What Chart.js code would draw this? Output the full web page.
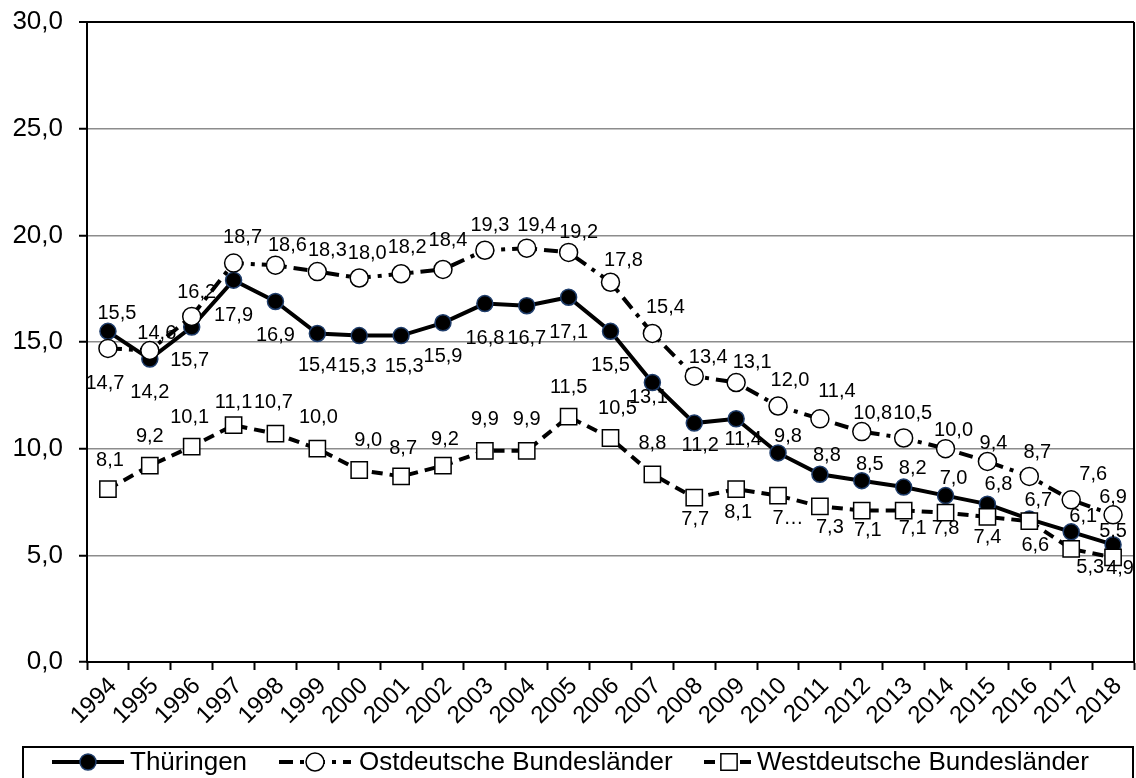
<!DOCTYPE html>
<html>
<head>
<meta charset="utf-8">
<script src="https://cdn.jsdelivr.net/npm/chart.js@4/dist/chart.umd.min.js"></script>
<style>
  body { margin: 0; background: #fff; }
  #wrap { width: 1136px; height: 778px; }
</style>
</head>
<body>
<div id="wrap"><canvas id="chart" width="1136" height="778"></canvas></div>
<script>
// Jahre
const years = ['1994','1995','1996','1997','1998','1999','2000','2001','2002','2003','2004','2005',
  '2006','2007','2008','2009','2010','2011','2012','2013','2014','2015','2016','2017','2018'];

// Werte je Reihe
const thueringen = [15.5,14.2,15.7,17.9,16.9,15.4,15.3,15.3,15.9,16.8,16.7,17.1,
  15.5,13.1,11.2,11.4,9.8,8.8,8.5,8.2,7.8,7.4,6.7,6.1,5.5];
const ostdeutsch = [14.7,14.6,16.2,18.7,18.6,18.3,18.0,18.2,18.4,19.3,19.4,19.2,
  17.8,15.4,13.4,13.1,12.0,11.4,10.8,10.5,10.0,9.4,8.7,7.6,6.9];
const westdeutsch = [8.1,9.2,10.1,11.1,10.7,10.0,9.0,8.7,9.2,9.9,9.9,11.5,
  10.5,8.8,7.7,8.1,7.8,7.3,7.1,7.1,7.0,6.8,6.6,5.3,4.9];

const yTicks = [0, 5, 10, 15, 20, 25, 30];

// Beschriftungs-Versatz (dx, dy) je Punkt, wie im Original
const offT = [[9,-18],[0,33],[-2,33],[0,35],[0,34],[0,32],[-2,31],[3,31],[0,34],[0,35],[0,33],[0,35],
  [0,34],[-4,15],[6,22],[7,21],[10,-16],[7,-19],[8,-16],[9,-19],[0,33],[0,33],[9,-19],[12,-15],[0,-13]];
const offO = [[-3,35],[7,-17],[5,-24],[9,-26],[12,-20],[10,-21],[8,-25],[6,-26],[5,-29],[5,-25],[10,-23],[10,-20],
  [13,-22],[13,-26],[14,-19],[16,-20],[12,-26],[17,-27],[11,-18],[9,-25],[8,-18],[6,-18],[8,-24],[22,-25],[0,-17]];
const offW = [[2,-29],[0,-29],[-2,-29],[0,-23],[-2,-31],[1,-31],[9,-30],[2,-28],[2,-26],[0,-31],[0,-31],[0,-29],
  [7,-30],[0,-31],[1,22],[2,23],[10,23],[10,21],[6,20],[9,18],[8,-34],[11,-32],[6,24],[19,19],[7,11]];
const labelOverrideW = { 16: '7…' }; // im Original abgeschnitten

// Legende: Symbol-Start, Symbol-Breite, Text-Start
const legendPos = [[52, 72, 130], [279, 72, 359], [704, 50, 757]];

const FONT = '"Liberation Sans", Arial, sans-serif';
const fmt = v => v.toFixed(1).replace('.', ',');

// Datenbeschriftungen
const labelPlugin = {
  id: 'labels',
  afterDatasetsDraw(chart) {
    const ctx = chart.ctx;
    const offsets = [offT, offO, offW];
    ctx.save();
    ctx.font = '20px ' + FONT;
    ctx.fillStyle = '#000';
    ctx.textAlign = 'center';
    ctx.textBaseline = 'middle';
    chart.data.datasets.forEach((ds, di) => {
      const meta = chart.getDatasetMeta(di);
      meta.data.forEach((pt, i) => {
        let txt = fmt(ds.data[i]);
        if (di === 2 && labelOverrideW[i]) txt = labelOverrideW[i];
        const o = offsets[di][i];
        ctx.fillText(txt, pt.x + o[0], pt.y + o[1]);
      });
    });
    ctx.restore();
  }
};

// Rahmen rechts + Legende unten
const framePlugin = {
  id: 'frame',
  beforeDatasetsDraw(chart) {
    const ctx = chart.ctx;
    const a = chart.chartArea;
    ctx.save();
    ctx.strokeStyle = '#000';
    ctx.lineWidth = 2;
    ctx.beginPath();
    ctx.moveTo(a.right, a.top);
    ctx.lineTo(a.right, a.bottom);
    ctx.stroke();
    ctx.restore();
  },
  afterDraw(chart) {
    const ctx = chart.ctx;
    ctx.save();
    ctx.strokeStyle = '#000';
    ctx.lineWidth = 2;
    ctx.strokeRect(23, 747, 1110, 60);

    const yc = 762;
    ctx.font = '26px ' + FONT;
    ctx.textBaseline = 'middle';
    chart.data.datasets.forEach((ds, di) => {
      const [x, w, tx] = legendPos[di];
      ctx.strokeStyle = '#000';
      ctx.lineWidth = 4;
      ctx.setLineDash(ds.borderDash || []);
      ctx.beginPath();
      ctx.moveTo(x, yc);
      ctx.lineTo(x + w, yc);
      ctx.stroke();
      ctx.setLineDash([]);
      const cx = x + w / 2;
      ctx.lineWidth = ds.pointBorderWidth;
      ctx.strokeStyle = ds.pointBorderColor;
      ctx.fillStyle = ds.pointBackgroundColor;
      ctx.beginPath();
      if (ds.pointStyle === 'rect') {
        const s = ds.pointRadius * Math.SQRT1_2;
        ctx.rect(cx - s, yc - s, 2 * s, 2 * s);
      } else {
        ctx.arc(cx, yc, ds.pointRadius, 0, Math.PI * 2);
      }
      ctx.fill();
      ctx.stroke();
      ctx.fillStyle = '#000';
      ctx.fillText(ds.label, tx, yc + 1);
    });
    ctx.restore();
  }
};

new Chart(document.getElementById('chart'), {
  type: 'line',
  data: {
    labels: years,
    datasets: [
      {
        label: 'Thüringen',
        data: thueringen,
        borderColor: '#000',
        borderWidth: 4,
        pointStyle: 'circle',
        pointRadius: 8,
        pointBackgroundColor: '#000',
        pointBorderColor: '#1f3d6b',
        pointBorderWidth: 1.5,
        tension: 0,
        order: 3
      },
      {
        label: 'Ostdeutsche Bundesländer',
        data: ostdeutsch,
        borderColor: '#000',
        borderWidth: 4,
        borderDash: [14, 7, 4, 7],
        pointStyle: 'circle',
        pointRadius: 9,
        pointBackgroundColor: '#fff',
        pointBorderColor: '#000',
        pointBorderWidth: 1.5,
        tension: 0,
        order: 2
      },
      {
        label: 'Westdeutsche Bundesländer',
        data: westdeutsch,
        borderColor: '#000',
        borderWidth: 4,
        borderDash: [11, 7],
        pointStyle: 'rect',
        pointRadius: 11.5,
        pointBackgroundColor: '#fff',
        pointBorderColor: '#000',
        pointBorderWidth: 1.5,
        tension: 0,
        order: 1
      }
    ]
  },
  options: {
    responsive: false,
    animation: false,
    devicePixelRatio: 1,
    layout: { autoPadding: false, padding: { top: 22, right: 2, left: 0, bottom: 0 } },
    plugins: {
      legend: { display: false },
      tooltip: { enabled: false }
    },
    scales: {
      x: {
        offset: true,
        afterFit: s => { s.height = 116; s.paddingRight = 0; s.paddingLeft = 0; },
        grid: {
          offset: true,
          drawOnChartArea: false,
          drawTicks: true,
          tickLength: 8,
          tickColor: '#000',
          tickWidth: 2
        },
        border: { display: true, color: '#000', width: 2 },
        ticks: {
          color: '#000',
          font: { family: FONT, size: 24 },
          minRotation: 45,
          maxRotation: 45,
          autoSkip: false,
          labelOffset: 5,
          padding: 2
        }
      },
      y: {
        min: 0,
        max: 30,
        afterFit: s => { s.width = 87; s.paddingTop = 0; s.paddingBottom = 0; },
        afterBuildTicks: s => { s.ticks = yTicks.map(v => ({ value: v })); },
        grid: {
          color: ctx => (ctx.tick && ctx.tick.value === 30) ? '#000' : '#8c8c8c',
          lineWidth: ctx => (ctx.tick && ctx.tick.value === 30) ? 2 : 1.5,
          tickLength: 8,
          tickColor: '#000',
          tickWidth: 2
        },
        border: { display: true, color: '#000', width: 2 },
        ticks: {
          color: '#000',
          font: { family: FONT, size: 26 },
          padding: 16,
          callback: v => fmt(v)
        }
      }
    }
  },
  plugins: [framePlugin, labelPlugin]
});
</script>
</body>
</html>
